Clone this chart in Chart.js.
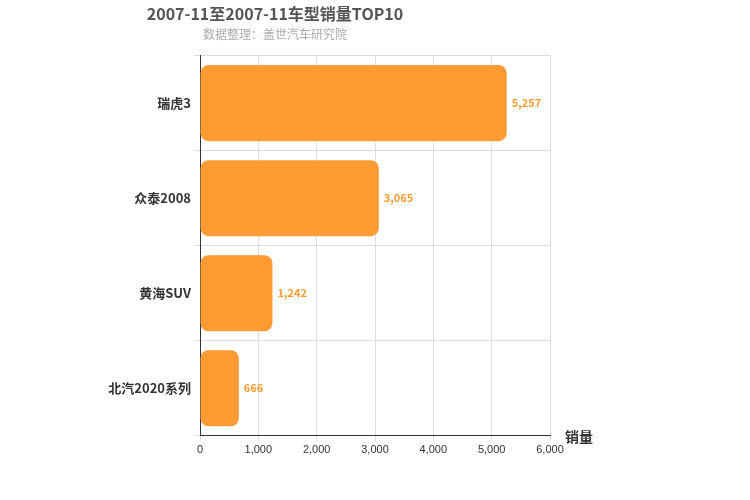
<!DOCTYPE html>
<html>
<head>
<meta charset="utf-8">
<script src="https://cdn.jsdelivr.net/npm/chart.js@4"></script>
<style>
  body { margin: 0; background: #fff; }
</style>
</head>
<body>
<canvas id="c" width="750" height="500" style="width:750px;height:500px"></canvas>
<script>
const models = ["瑞虎3", "众泰2008", "黄海SUV", "北汽2020系列"]
const sales = [5257, 3065, 1242, 666]
const xTicks = [0, 1000, 2000, 3000, 4000, 5000, 6000]

const orange = "rgb(255,155,51)"

// value labels + axis title
const extras = {
  id: "extras",
  afterDatasetsDraw(chart) {
    const ctx = chart.ctx
    const meta = chart.getDatasetMeta(0)
    ctx.save()
    ctx.font = "bold 11px 'Noto Sans CJK SC', sans-serif"
    ctx.fillStyle = orange
    ctx.textBaseline = "middle"
    meta.data.forEach((bar, i) => {
      ctx.fillText(sales[i].toLocaleString("en-US"), bar.x + 5, bar.y)
    })
    const a = chart.chartArea
    ctx.font = "bold 14px 'Noto Sans CJK SC', sans-serif"
    ctx.fillStyle = "#333"
    ctx.fillText("销量", a.right + 15, a.bottom + 1)
    ctx.restore()
  }
}

new Chart(document.getElementById("c"), {
  type: "bar",
  data: {
    labels: models,
    datasets: [{
      data: sales,
      backgroundColor: orange,
      borderRadius: 8,
      borderSkipped: false,
      categoryPercentage: 0.8,
      barPercentage: 1
    }]
  },
  plugins: [extras],
  options: {
    indexAxis: "y",
    responsive: false,
    animation: false,
    devicePixelRatio: 1,
    layout: { padding: { left: 0, right: 200, top: 0, bottom: 40 } },
    scales: {
      x: {
        min: 0, max: 6000,
        afterBuildTicks: (s) => { s.ticks = xTicks.map(v => ({ value: v })) },
        ticks: { color: "#333", font: { size: 11 }, callback: v => v.toLocaleString("en-US") },
        grid: { color: "#ddd", tickLength: 5 },
        border: { color: "#333" }
      },
      y: {
        afterFit: (s) => { s.width = 200 },
        ticks: { color: "#333", font: { size: 13, weight: "bold", family: "'Noto Sans CJK SC', sans-serif" } },
        grid: { color: "#ddd", offset: true, tickLength: 6 },
        border: { color: "#333" }
      }
    },
    plugins: {
      legend: { display: false },
      tooltip: { enabled: false },
      title: {
        display: true,
        text: "2007-11至2007-11车型销量TOP10",
        color: "#555",
        font: { size: 16, weight: "bold", family: "'Noto Sans CJK SC', sans-serif" },
        padding: { top: 4, bottom: 4 }
      },
      subtitle: {
        display: true,
        text: "数据整理：盖世汽车研究院",
        color: "#aaa",
        font: { size: 12, family: "'Noto Sans CJK SC', sans-serif" },
        padding: { bottom: 14 }
      }
    }
  }
})
</script>
</body>
</html>
